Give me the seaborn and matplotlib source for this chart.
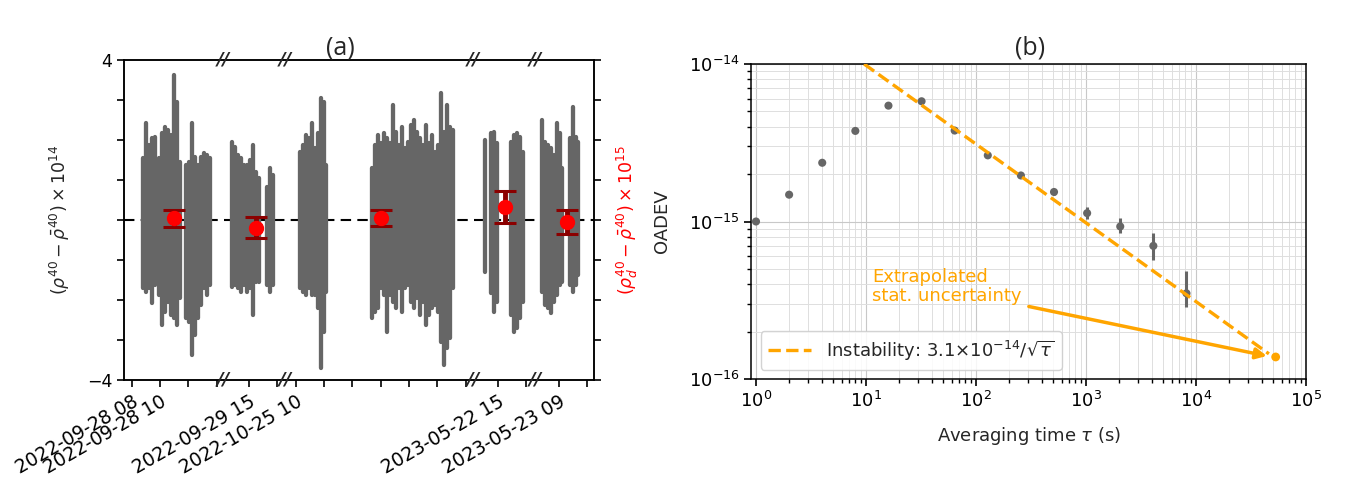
import matplotlib
matplotlib.use("Agg")
import matplotlib.pyplot as plt
import seaborn as sns
import pandas as pd
import numpy as np
from matplotlib.transforms import blended_transform_factory
from matplotlib.ticker import NullFormatter

# ---------------- panel (a) data ----------------
# compressed time axis (one unit = one tick step), envelope of the dense point clouds
col_u = [0.41, 0.52, 0.62, 0.73, 0.83, 0.98, 1.08, 1.19, 1.29, 1.40, 1.50, 1.60, 1.70,
         1.93, 2.03, 2.14, 2.25, 2.35, 2.46, 2.56, 2.67, 2.78,
         3.55, 3.66, 3.76, 3.87, 3.98, 4.08, 4.19, 4.29, 4.40, 4.50, 4.76, 4.87, 4.98,
         5.94, 6.05, 6.15, 6.26, 6.36, 6.47, 6.58, 6.68, 6.79, 6.85,
         8.47, 8.58, 8.68, 8.79, 8.90, 9.00, 9.11, 9.21, 9.32, 9.42,
         9.53, 9.64, 9.74, 9.85, 9.95, 10.06, 10.17, 10.27, 10.38, 10.48,
         10.59, 10.70, 10.80, 10.91, 11.01, 11.12, 11.22, 11.33,
         12.47, 12.68, 12.79, 12.89, 13.40, 13.51, 13.61, 13.72, 13.82,
         14.47, 14.58, 14.68, 14.79, 14.90, 15.00, 15.11, 15.19, 15.47, 15.58, 15.68, 15.76]
col_hi = [1.54, 2.42, 1.88, 2.04, 2.08, 1.54, 2.17, 2.33, 2.25, 2.13, 3.63, 2.96, 1.46,
          1.38, 1.46, 2.42, 1.58, 1.38, 1.58, 1.67, 1.63, 1.54,
          1.96, 1.83, 1.63, 1.54, 1.38, 1.38, 1.50, 1.88, 1.21, 1.04, 0.83, 1.29, 1.13,
          1.71, 1.88, 2.13, 2.04, 2.42, 1.79, 2.17, 3.04, 2.96, 1.38,
          1.29, 1.88, 2.13, 1.92, 2.17, 2.04, 1.92, 2.88, 2.21, 1.88,
          2.33, 1.79, 1.96, 2.38, 2.50, 2.21, 2.04, 1.88, 2.38, 1.92,
          2.13, 1.71, 1.88, 3.17, 2.21, 2.88, 2.33, 2.25,
          2.00, 2.17, 2.21, 1.92, 1.96, 2.13, 2.17, 2.08, 1.71,
          2.50, 1.96, 1.88, 1.79, 1.63, 2.42, 2.17, 1.29, 2.04, 2.83, 2.08, 1.96]
col_lo = [-1.71, -1.79, -1.71, -2.08, -1.63, -1.88, -2.63, -2.29, -2.04, -2.38, -2.46, -2.63, -1.96,
          -2.46, -2.54, -3.38, -2.88, -2.46, -2.13, -1.71, -1.88, -1.63,
          -1.67, -1.63, -1.71, -1.79, -1.63, -1.79, -1.71, -2.38, -1.54, -1.54, -1.63, -1.79, -1.63,
          -1.71, -1.79, -1.88, -1.71, -1.88, -1.88, -2.21, -3.71, -2.79, -1.79,
          -2.46, -2.29, -2.21, -1.71, -1.88, -2.79, -1.88, -2.04, -2.21, -1.71,
          -2.29, -1.71, -1.63, -2.04, -2.21, -1.96, -2.38, -2.04, -2.63, -2.38,
          -2.21, -2.13, -2.29, -3.04, -3.63, -3.21, -2.96, -1.71,
          -1.29, -1.83, -2.29, -2.04, -2.38, -2.79, -2.71, -2.46, -2.04,
          -1.79, -2.13, -2.21, -2.33, -2.04, -1.88, -1.63, -1.54, -1.63, -1.79, -1.63, -1.38]

red_u = [1.49, 4.39, 8.80, 13.18, 15.36]
red_y = [0.04, -0.19, 0.04, 0.33, -0.06]
red_err = [0.21, 0.27, 0.20, 0.40, 0.30]

tick_u = [0.0, 1.0, 2.0, 3.0, 4.15, 5.12, 5.79, 6.79, 7.79, 8.79, 9.79, 10.79, 11.79,
          12.94, 13.92, 15.09, 16.09]
tick_labels = ["2022-09-28 08", "2022-09-28 10", "", "", "2022-09-29 15", "",
               "2022-10-25 10", "", "", "", "", "", "", "2023-05-22 15", "",
               "2023-05-23 09", ""]
break_u = [3.22, 5.41, 12.05, 14.24]

# ---------------- panel (b) data ----------------
tau = [1, 2, 4, 8, 16, 32, 64, 128, 256, 512, 1024, 2048, 4096, 8192]
oadev = [1.00e-15, 1.48e-15, 2.36e-15, 3.76e-15, 5.44e-15, 5.80e-15, 3.78e-15,
         2.63e-15, 1.96e-15, 1.54e-15, 1.13e-15, 0.93e-15, 0.70e-15, 0.35e-15]
oadev_lo = [0.99e-15, 1.46e-15, 2.33e-15, 3.71e-15, 5.37e-15, 5.70e-15, 3.71e-15,
            2.57e-15, 1.90e-15, 1.48e-15, 1.04e-15, 0.84e-15, 0.57e-15, 0.285e-15]
oadev_hi = [1.01e-15, 1.50e-15, 2.39e-15, 3.81e-15, 5.51e-15, 5.90e-15, 3.85e-15,
            2.69e-15, 2.02e-15, 1.60e-15, 1.24e-15, 1.06e-15, 0.85e-15, 0.486e-15]
fit_coef = 3.1e-14
fit_tau = [9.61, 4.6e4]
extrap_tau = [5.3e4]
extrap_val = [1.38e-16]

# ---------------- style ----------------
sns.set_theme(style="ticks")
plt.rcParams['font.family'] = ['DejaVu Sans']
plt.rcParams['mathtext.fontset'] = 'dejavusans'
plt.rcParams['axes.linewidth'] = 1.1
plt.rcParams['axes.edgecolor'] = 'black'
plt.rcParams['xtick.color'] = 'black'
plt.rcParams['ytick.color'] = 'black'

GRAY = '#666666'
ORANGE = '#FFA500'

fig = plt.figure(figsize=(13.45, 4.83), dpi=100)
axL = fig.add_axes([124 / 1345, 1 - 380 / 483, 470 / 1345, 320 / 483])
axR = fig.add_axes([751.5 / 1345, 1 - 379 / 483, 554.5 / 1345, 315 / 483])

# ---------------- panel (a) ----------------
axL.axhline(0, color='black', ls=(0, (5, 3)), lw=1.5, zorder=1)
axL.vlines(col_u, col_lo, col_hi, colors=GRAY, lw=3.1, capstyle='round', zorder=2)
axL.set_xlim(-0.272, 16.32)
axL.set_ylim(-4, 4)
axL.set_yticks(range(-4, 5))
axL.set_yticklabels(['\u22124', '', '', '', '', '', '', '', '4'], fontsize=12.5)
axL.set_xticks(tick_u)
axL.set_xticklabels(tick_labels, rotation=30, ha='right', rotation_mode='anchor', fontsize=13.5)
axL.tick_params(axis='both', length=5, width=1.2)
axL.set_ylabel(r'$(\rho^{40} - \bar{\rho}^{40})\times 10^{14}$', fontsize=12.5)
axL.yaxis.set_label_coords(-0.111, 0.5)

axL2 = axL.twinx()
axL2.set_ylim(-4, 4)
axL2.set_yticks(range(-4, 5))
axL2.set_yticklabels([''] * 9)
axL2.tick_params(axis='y', length=5, width=1.2)
axL2.errorbar(red_u, red_y, yerr=red_err, fmt='o', color='red', ms=10,
              ecolor='darkred', elinewidth=3.5, capsize=8, capthick=2.2, zorder=5)
axL2.set_ylabel(r'$(\rho_d^{40} - \bar{\rho}^{40})\times 10^{15}$', color='red', fontsize=12.5)
axL2.yaxis.set_label_coords(1.045, 0.5)

trans = blended_transform_factory(axL2.transData, axL2.transAxes)
for bu in break_u:
    for yy in (0.0, 1.0):
        axL2.text(bu, yy, '//', transform=trans, ha='center', va='center',
                  fontsize=13, fontweight='heavy', style='italic', clip_on=False, zorder=10)

# ---------------- panel (b) ----------------
axR.set_xscale('log')
axR.set_yscale('log')
axR.grid(True, which='major', color='#c8c8c8', lw=0.8)
axR.grid(True, which='minor', color='#dedede', lw=0.7)
axR.set_axisbelow(True)

lower = np.array(oadev) - np.array(oadev_lo)
upper = np.array(oadev_hi) - np.array(oadev)
axR.errorbar(tau, oadev, yerr=[lower, upper], fmt='none', ecolor=GRAY, elinewidth=2.2, zorder=3)
df = pd.DataFrame({'tau': tau, 'oadev': oadev})
sns.scatterplot(data=df, x='tau', y='oadev', ax=axR, color=GRAY, s=34, edgecolor='none', zorder=4)

fit_df = pd.DataFrame({'tau': fit_tau, 'val': fit_coef / np.sqrt(np.array(fit_tau))})
sns.lineplot(data=fit_df, x='tau', y='val', ax=axR, color=ORANGE, lw=2.4, linestyle='--',
             label=r'Instability: $3.1{\times}10^{-14}/\sqrt{\tau}$', zorder=5)
ex_df = pd.DataFrame({'tau': extrap_tau, 'val': extrap_val})
sns.scatterplot(data=ex_df, x='tau', y='val', ax=axR, color=ORANGE, s=40, edgecolor='none', zorder=6)

axR.set_xlim(0.91, 1.0e5)
axR.set_ylim(1e-16, 1e-14)

axR.annotate('Extrapolated\nstat. uncertainty', xy=(4.4e4, 1.40e-16), xytext=(11.3, 5.07e-16),
             textcoords='data', color=ORANGE, fontsize=13, ha='left', va='top',
             linespacing=1.05,
             arrowprops=dict(arrowstyle='-|>', color=ORANGE, lw=2.5, mutation_scale=16,
                             shrinkA=0, shrinkB=0, relpos=(1.05, -0.05)))

axR.yaxis.set_minor_formatter(NullFormatter())
axR.xaxis.set_minor_formatter(NullFormatter())
axR.tick_params(which='major', length=5, width=1.2, labelsize=13)
axR.tick_params(which='minor', length=3, width=1.0)
axR.set_xlabel(r'Averaging time $\tau$ (s)', fontsize=13)
axR.set_ylabel('OADEV', fontsize=13)
axR.yaxis.set_label_coords(-0.145, 0.5)
axR.xaxis.set_label_coords(0.5, -0.146)
for sp in axR.spines.values():
    sp.set_visible(True)
    sp.set_linewidth(1.1)

leg = axR.legend(loc='lower left', fontsize=13, frameon=True, fancybox=True,
                 edgecolor='#cccccc', framealpha=0.85, handlelength=2.4)

fig.text(340 / 1345, 1 - 48 / 483, '(a)', ha='center', va='center', fontsize=18,
         family=['Open Sans', 'DejaVu Sans'])
fig.text(1030 / 1345, 1 - 48 / 483, '(b)', ha='center', va='center', fontsize=18,
         family=['Open Sans', 'DejaVu Sans'])

fig.savefig('out.png', dpi=100)
